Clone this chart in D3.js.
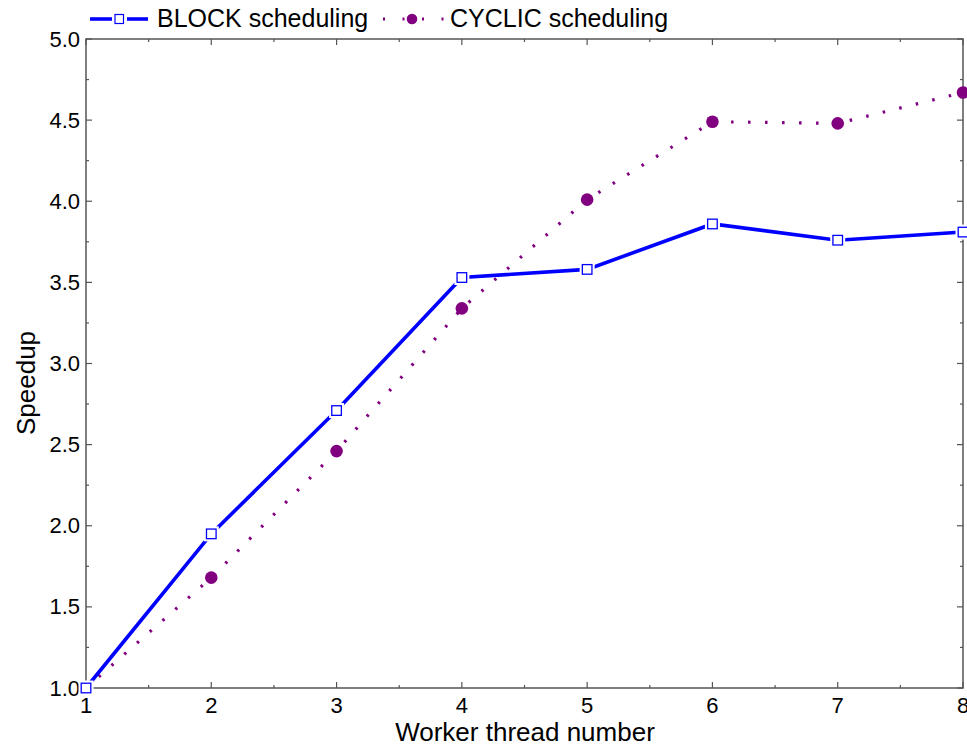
<!DOCTYPE html>
<html>
<head>
<meta charset="utf-8">
<script src="https://cdn.jsdelivr.net/npm/d3@7"></script>
<style>
  body { margin: 0; background: #fff; }
  svg { display: block; font-family: "Liberation Sans", Arial, sans-serif; }
</style>
</head>
<body>
<svg id="chart" width="967" height="748"></svg>
<script>
// Worker thread counts and measured speedups
const threads = [1, 2, 3, 4, 5, 6, 7, 8];
const blockSpeedup = [1.0, 1.95, 2.71, 3.53, 3.58, 3.86, 3.76, 3.81];
const cyclicSpeedup = [1.0, 1.68, 2.46, 3.34, 4.01, 4.49, 4.48, 4.67];
const xTicks = [1, 2, 3, 4, 5, 6, 7, 8];
const yTicks = [1.0, 1.5, 2.0, 2.5, 3.0, 3.5, 4.0, 4.5, 5.0];

(function () {
const svg = d3.select("#chart");
const mLeft = 86, mRight = 963, mTop = 39, mBottom = 688;
const axisColor = "#555";

const x = d3.scaleLinear().domain([1, 8]).range([mLeft, mRight]);
const y = d3.scaleLinear().domain([1, 5]).range([mBottom, mTop]);

const blockColor = "#0000ff";
const cyclicColor = "#800080";

// Frame
svg.append("rect")
  .attr("x", mLeft).attr("y", mTop)
  .attr("width", mRight - mLeft).attr("height", mBottom - mTop)
  .attr("fill", "none").attr("stroke", axisColor).attr("stroke-width", 1.5);

// Inward ticks on all four sides (major + minor at midpoints)
const xMinor = d3.range(1.5, 8, 1);
const yMinor = d3.range(1.25, 5, 0.5);
const g = svg.append("g").attr("stroke", axisColor).attr("stroke-width", 1.2);
xTicks.forEach(t => {
  g.append("line").attr("x1", x(t)).attr("x2", x(t)).attr("y1", mBottom).attr("y2", mBottom - 6);
  g.append("line").attr("x1", x(t)).attr("x2", x(t)).attr("y1", mTop).attr("y2", mTop + 6);
});
xMinor.forEach(t => {
  g.append("line").attr("x1", x(t)).attr("x2", x(t)).attr("y1", mBottom).attr("y2", mBottom - 3);
  g.append("line").attr("x1", x(t)).attr("x2", x(t)).attr("y1", mTop).attr("y2", mTop + 3);
});
yTicks.forEach(t => {
  g.append("line").attr("x1", mLeft).attr("x2", mLeft + 6).attr("y1", y(t)).attr("y2", y(t));
  g.append("line").attr("x1", mRight).attr("x2", mRight - 6).attr("y1", y(t)).attr("y2", y(t));
});
yMinor.forEach(t => {
  g.append("line").attr("x1", mLeft).attr("x2", mLeft + 3).attr("y1", y(t)).attr("y2", y(t));
  g.append("line").attr("x1", mRight).attr("x2", mRight - 3).attr("y1", y(t)).attr("y2", y(t));
});

// Tick labels
svg.append("g").selectAll("text").data(xTicks).join("text")
  .attr("x", d => x(d)).attr("y", 713)
  .attr("text-anchor", "middle").attr("font-size", 22).attr("fill", "#000")
  .text(d => d);
svg.append("g").selectAll("text").data(yTicks).join("text")
  .attr("x", 80).attr("y", d => y(d) + 7.5)
  .attr("text-anchor", "end").attr("font-size", 22).attr("fill", "#000")
  .text(d => d.toFixed(1));

// Axis titles
svg.append("text").attr("x", 525).attr("y", 741)
  .attr("text-anchor", "middle").attr("font-size", 26).text("Worker thread number");
svg.append("text").attr("transform", "translate(35,383) rotate(-90)")
  .attr("text-anchor", "middle").attr("font-size", 26).text("Speedup");

const line = d3.line().x(d => x(d[0])).y(d => y(d[1]));
const blockPts = threads.map((t, i) => [t, blockSpeedup[i]]);
const cyclicPts = threads.map((t, i) => [t, cyclicSpeedup[i]]);

const plot = svg.append("g");

// CYCLIC: dotted purple line with filled circles
plot.append("path").datum(cyclicPts).attr("d", line)
  .attr("fill", "none").attr("stroke", cyclicColor)
  .attr("stroke-width", 3.2).attr("stroke-dasharray", "2.5,14.5");
plot.selectAll(".cyc").data(cyclicPts).join("circle")
  .attr("cx", d => x(d[0])).attr("cy", d => y(d[1])).attr("r", 6.3)
  .attr("fill", cyclicColor);

// BLOCK: solid blue line with open squares
plot.append("path").datum(blockPts).attr("d", line)
  .attr("fill", "none").attr("stroke", blockColor).attr("stroke-width", 3.6);
plot.selectAll(".blkhalo").data(blockPts).join("rect")
  .attr("x", d => x(d[0]) - 7.5).attr("y", d => y(d[1]) - 7.5)
  .attr("width", 15).attr("height", 15).attr("fill", "#fff");
plot.selectAll(".blk").data(blockPts).join("rect")
  .attr("x", d => x(d[0]) - 4.8).attr("y", d => y(d[1]) - 4.8)
  .attr("width", 9.6).attr("height", 9.6)
  .attr("fill", "#fff").attr("stroke", blockColor).attr("stroke-width", 1.3);

// Legend
const leg = svg.append("g");
const ly = 19;
leg.append("line").attr("x1", 90).attr("x2", 112).attr("y1", ly).attr("y2", ly)
  .attr("stroke", blockColor).attr("stroke-width", 3.6);
leg.append("line").attr("x1", 127).attr("x2", 148).attr("y1", ly).attr("y2", ly)
  .attr("stroke", blockColor).attr("stroke-width", 3.6);
leg.append("rect").attr("x", 115).attr("y", ly - 4.5).attr("width", 8.5).attr("height", 9)
  .attr("fill", "#fff").attr("stroke", blockColor).attr("stroke-width", 1.2);
leg.append("text").attr("x", 157).attr("y", 27).attr("font-size", 25).text("BLOCK scheduling");

leg.append("line").attr("x1", 383).attr("x2", 444).attr("y1", ly).attr("y2", ly)
  .attr("stroke", cyclicColor).attr("stroke-width", 3).attr("stroke-dasharray", "2,17.5");
leg.append("circle").attr("cx", 412).attr("cy", ly).attr("r", 5.3).attr("fill", cyclicColor);
leg.append("text").attr("x", 450).attr("y", 27).attr("font-size", 25).text("CYCLIC scheduling");
})();
</script>
</body>
</html>
